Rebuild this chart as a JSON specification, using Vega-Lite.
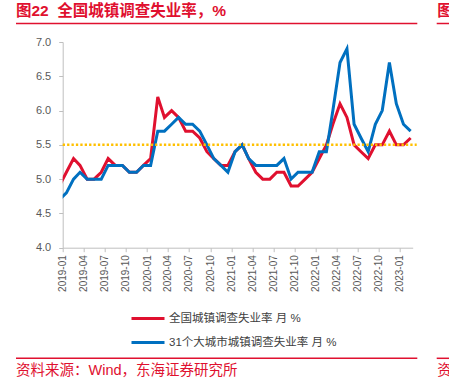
{
  "$schema": "https://vega.github.io/schema/vega-lite/v6.json",
  "width": 350,
  "height": 205.7,
  "autosize": {"type": "none"},
  "padding": {"left": 62.7, "top": 42, "right": 36.3, "bottom": 134.3},
  "background": "white",
  "config": {
    "view": {"stroke": null},
    "font": "Liberation Sans, Noto Sans CJK SC",
    "axis": {
      "domainColor": "#BFBFBF",
      "tickColor": "#BFBFBF",
      "labelColor": "#595959",
      "labelFont": "Liberation Sans, Noto Sans CJK SC",
      "grid": false,
      "title": null
    },
    "axisY": {
      "values": [4.0, 4.5, 5.0, 5.5, 6.0, 6.5, 7.0],
      "labelExpr": "format(datum.value, '.1f')",
      "labelFontSize": 11,
      "tickSize": 4,
      "labelPadding": 8,
      "labelFlush": false,
      "labelOverlap": false,
      "labelBound": false
    }
  },
  "layer": [
    {
      "data": {
        "values": [
          {"month": "2018-12", "national": 4.9, "cities": 4.7},
          {"month": "2019-01", "national": 5.1, "cities": 4.8},
          {"month": "2019-02", "national": 5.3, "cities": 5.0},
          {"month": "2019-03", "national": 5.2, "cities": 5.1},
          {"month": "2019-04", "national": 5.0, "cities": 5.0},
          {"month": "2019-05", "national": 5.0, "cities": 5.0},
          {"month": "2019-06", "national": 5.1, "cities": 5.0},
          {"month": "2019-07", "national": 5.3, "cities": 5.2},
          {"month": "2019-08", "national": 5.2, "cities": 5.2},
          {"month": "2019-09", "national": 5.2, "cities": 5.2},
          {"month": "2019-10", "national": 5.1, "cities": 5.1},
          {"month": "2019-11", "national": 5.1, "cities": 5.1},
          {"month": "2019-12", "national": 5.2, "cities": 5.2},
          {"month": "2020-01", "national": 5.3, "cities": 5.2},
          {"month": "2020-02", "national": 6.2, "cities": 5.7},
          {"month": "2020-03", "national": 5.9, "cities": 5.7},
          {"month": "2020-04", "national": 6.0, "cities": 5.8},
          {"month": "2020-05", "national": 5.9, "cities": 5.9},
          {"month": "2020-06", "national": 5.7, "cities": 5.8},
          {"month": "2020-07", "national": 5.7, "cities": 5.8},
          {"month": "2020-08", "national": 5.6, "cities": 5.7},
          {"month": "2020-09", "national": 5.4, "cities": 5.5},
          {"month": "2020-10", "national": 5.3, "cities": 5.3},
          {"month": "2020-11", "national": 5.2, "cities": 5.2},
          {"month": "2020-12", "national": 5.2, "cities": 5.1},
          {"month": "2021-01", "national": 5.4, "cities": 5.4},
          {"month": "2021-02", "national": 5.5, "cities": 5.5},
          {"month": "2021-03", "national": 5.3, "cities": 5.3},
          {"month": "2021-04", "national": 5.1, "cities": 5.2},
          {"month": "2021-05", "national": 5.0, "cities": 5.2},
          {"month": "2021-06", "national": 5.0, "cities": 5.2},
          {"month": "2021-07", "national": 5.1, "cities": 5.2},
          {"month": "2021-08", "national": 5.1, "cities": 5.3},
          {"month": "2021-09", "national": 4.9, "cities": 5.0},
          {"month": "2021-10", "national": 4.9, "cities": 5.1},
          {"month": "2021-11", "national": 5.0, "cities": 5.1},
          {"month": "2021-12", "national": 5.1, "cities": 5.1},
          {"month": "2022-01", "national": 5.3, "cities": 5.4},
          {"month": "2022-02", "national": 5.5, "cities": 5.4},
          {"month": "2022-03", "national": 5.8, "cities": 6.0},
          {"month": "2022-04", "national": 6.1, "cities": 6.7},
          {"month": "2022-05", "national": 5.9, "cities": 6.9},
          {"month": "2022-06", "national": 5.5, "cities": 5.8},
          {"month": "2022-07", "national": 5.4, "cities": 5.6},
          {"month": "2022-08", "national": 5.3, "cities": 5.4},
          {"month": "2022-09", "national": 5.5, "cities": 5.8},
          {"month": "2022-10", "national": 5.5, "cities": 6.0},
          {"month": "2022-11", "national": 5.7, "cities": 6.7},
          {"month": "2022-12", "national": 5.5, "cities": 6.1},
          {"month": "2023-01", "national": 5.5, "cities": 5.8},
          {"month": "2023-02", "national": 5.6, "cities": 5.7}
        ],
        "format": {"parse": {"month": "date:'%Y-%m'"}}
      },
      "transform": [{"fold": ["national", "cities"], "as": ["series", "value"]}],
      "mark": {"type": "line", "strokeWidth": 3, "clip": true, "strokeJoin": "miter", "strokeCap": "butt"},
      "encoding": {
        "x": {
          "field": "month",
          "type": "temporal",
          "scale": {"domain": [{"year": 2018, "month": 12, "date": 16}, {"year": 2023, "month": 2, "date": 10}]},
          "axis": {
            "values": [
              {"year": 2019, "month": 1}, {"year": 2019, "month": 4}, {"year": 2019, "month": 7}, {"year": 2019, "month": 10},
              {"year": 2020, "month": 1}, {"year": 2020, "month": 4}, {"year": 2020, "month": 7}, {"year": 2020, "month": 10},
              {"year": 2021, "month": 1}, {"year": 2021, "month": 4}, {"year": 2021, "month": 7}, {"year": 2021, "month": 10},
              {"year": 2022, "month": 1}, {"year": 2022, "month": 4}, {"year": 2022, "month": 7}, {"year": 2022, "month": 10},
              {"year": 2023, "month": 1}
            ],
            "format": "%Y-%m",
            "labelAngle": -90,
            "labelFontSize": 10,
            "labelPadding": 3,
            "tickSize": 4,
            "tickOffset": -3.6,
            "labelOverlap": false,
            "labelBound": false,
            "labelFlush": false
          }
        },
        "y": {
          "field": "value",
          "type": "quantitative",
          "scale": {"domain": [4, 7], "nice": false, "zero": false},
          "axis": {"values": [4.0, 4.5, 5.0, 5.5, 6.0, 6.5, 7.0]}
        },
        "color": {
          "field": "series",
          "type": "nominal",
          "scale": {"domain": ["national", "cities"], "range": ["#E0102F", "#0070C0"]},
          "legend": {
            "title": null,
            "orient": "none",
            "legendX": 78.3,
            "legendY": 269.5,
            "direction": "vertical",
            "symbolType": "M-3,0H3",
            "symbolSize": 121,
            "symbolStrokeWidth": 3,
            "labelOffset": 14,
            "labelFontSize": 11.5,
            "labelLimit": 0,
            "labelColor": "#404040",
            "labelFont": "Liberation Sans, Noto Sans CJK SC",
            "rowPadding": 11,
            "padding": 0,
            "labelExpr": "datum.value == 'national' ? '全国城镇调查失业率 月 %' : '31个大城市城镇调查失业率 月 %'"
          }
        }
      }
    },
    {
      "data": {"values": [{}]},
      "mark": {"type": "rule", "color": "#FFC000", "strokeWidth": 2.5, "strokeDash": [2.3, 2.1]},
      "encoding": {
        "y": {"datum": 5.5, "type": "quantitative", "axis": {"values": [4.0, 4.5, 5.0, 5.5, 6.0, 6.5, 7.0]}},
        "x": {"value": 0},
        "x2": {"value": 354}
      }
    },
    {
      "data": {"values": [{}]},
      "mark": {"type": "text", "text": "图22\u00a0\u00a0全国城镇调查失业率，%", "fontSize": 15.5, "fontWeight": "bold", "color": "#E0102F", "align": "left", "baseline": "alphabetic", "font": "Liberation Sans, Noto Sans CJK SC"},
      "encoding": {"x": {"value": -46.7}, "y": {"value": -26.5}}
    },
    {
      "data": {"values": [{}]},
      "mark": {"type": "text", "text": "图", "fontSize": 15.5, "fontWeight": "bold", "color": "#E0102F", "align": "left", "baseline": "alphabetic", "font": "Noto Sans CJK SC"},
      "encoding": {"x": {"value": 374.5}, "y": {"value": -26.5}}
    },
    {
      "data": {"values": [{}]},
      "mark": {"type": "rule", "color": "#E0102F", "strokeWidth": 1.5},
      "encoding": {"x": {"value": -46.7}, "x2": {"value": 354.6}, "y": {"value": -18.5}}
    },
    {
      "data": {"values": [{}]},
      "mark": {"type": "rule", "color": "#E0102F", "strokeWidth": 1.5},
      "encoding": {"x": {"value": 374}, "x2": {"value": 390}, "y": {"value": -18.5}}
    },
    {
      "data": {"values": [{}]},
      "mark": {"type": "rule", "color": "#E0102F", "strokeWidth": 1.5},
      "encoding": {"x": {"value": -46.7}, "x2": {"value": 354.6}, "y": {"value": 316.3}}
    },
    {
      "data": {"values": [{}]},
      "mark": {"type": "rule", "color": "#E0102F", "strokeWidth": 1.5},
      "encoding": {"x": {"value": 374}, "x2": {"value": 390}, "y": {"value": 316.3}}
    },
    {
      "data": {"values": [{}]},
      "mark": {"type": "text", "text": "资料来源：Wind，东海证券研究所", "fontSize": 14.5, "color": "#E0102F", "align": "left", "baseline": "alphabetic", "font": "Liberation Sans, Noto Sans CJK SC"},
      "encoding": {"x": {"value": -46.7}, "y": {"value": 332.5}}
    },
    {
      "data": {"values": [{}]},
      "mark": {"type": "text", "text": "资", "fontSize": 14.5, "color": "#E0102F", "align": "left", "baseline": "alphabetic", "font": "Noto Sans CJK SC"},
      "encoding": {"x": {"value": 374.5}, "y": {"value": 332.5}}
    }
  ]
}
